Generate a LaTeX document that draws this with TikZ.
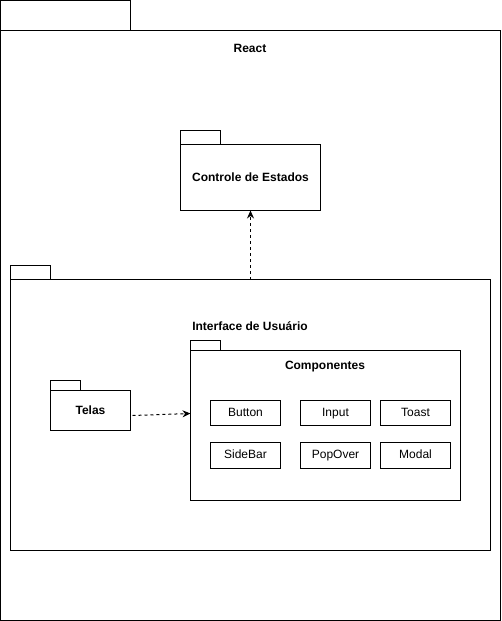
\documentclass[tikz,border=0pt]{standalone}
\usepackage{fontspec}
\setmainfont{Liberation Sans}
\usetikzlibrary{arrows.meta}
\begin{document}
\begin{tikzpicture}[x=1pt,y=-1pt,line width=1pt,
  body/.style={draw,anchor=north west,inner sep=0pt,outer sep=0pt},
  tab/.style={draw,anchor=south west,inner sep=0pt,outer sep=0pt},
  title/.style={font=\bfseries\fontsize{12}{14}\selectfont},
  comp/.style={draw,anchor=north west,inner sep=0pt,outer sep=0pt,minimum width=70pt,
    minimum height=25pt,text height=9pt,text depth=2.5pt,font=\fontsize{12}{14}\selectfont},
  dep/.style={dash pattern=on 3pt off 3pt,-{Stealth[length=8pt,width=7pt]}}]
  \useasboundingbox (0,0) rectangle (501,621);
  \node[body,minimum width=500pt,minimum height=590pt] (react) at (0.5,30.5) {};
  \node[tab,minimum width=130pt,minimum height=30pt] (reacttab) at (react.north west) {};
  \node[title] (reactlbl) at (250,48) {React};
  \node[body,title,minimum width=140pt,minimum height=66pt] (estados) at (180.5,144.5) {Controle de Estados};
  \node[tab,minimum width=40pt,minimum height=14pt] (estadostab) at (estados.north west) {};
  \node[body,minimum width=480pt,minimum height=271pt] (ui) at (10.5,279.5) {};
  \node[tab,minimum width=40pt,minimum height=14pt] (uitab) at (ui.north west) {};
  \node[title] (uilbl) at (250,326) {Interface de Usuário};
  \node[body,minimum width=270pt,minimum height=150pt] (comps) at (190.5,350.5) {};
  \node[tab,minimum width=30pt,minimum height=10pt] (compstab) at (comps.north west) {};
  \node[title] (compslbl) at (325,367) {Componentes};
  \node[body,title,minimum width=80pt,minimum height=40pt] (telas) at (50.5,390.5) {Telas};
  \node[tab,minimum width=30pt,minimum height=10pt] (telastab) at (telas.north west) {};
  % componentes
  \node[comp] (button) at (210.5,400.5) {Button};
  \node[comp] (input) at (300.5,400.5) {Input};
  \node[comp] (toast) at (380.5,400.5) {Toast};
  \node[comp,minimum height=26pt] (sidebar) at (210.5,442.5) {SideBar};
  \node[comp,minimum height=26pt] (popover) at (300.5,442.5) {PopOver};
  \node[comp,minimum height=26pt] (modal) at (380.5,442.5) {Modal};
  % dependencias
  \draw[dep] (ui.north -| estados.south) -- (estados.south);
  \draw[dep] ([xshift=2pt,yshift=-5pt]telas.east) -- ([yshift=12pt]comps.west);
\end{tikzpicture}
\end{document}
